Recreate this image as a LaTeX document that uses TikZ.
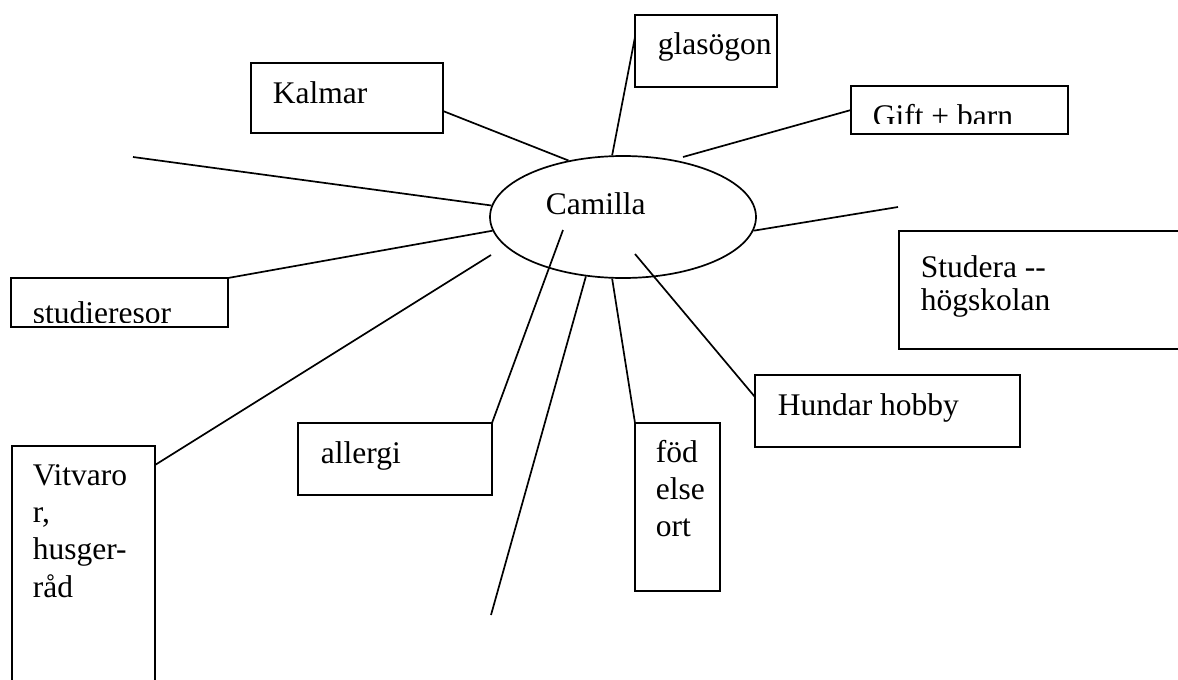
\documentclass[tikz,border=0pt]{standalone}
\usepackage{fontspec}
\setmainfont{Liberation Serif}
\usetikzlibrary{shapes,calc,positioning}

\begin{document}
\begin{tikzpicture}[x=1pt,y=-1pt,line width=1.7pt,
    box/.style={draw,rectangle,anchor=north west,inner sep=0pt,outer sep=0pt},
    txt/.style={anchor=base west,inner sep=0pt,align=left,font=\fontsize{31.5}{37.3}\selectfont}]
            \useasboundingbox (0,0) rectangle (1178,680);
            \clip (0,0) rectangle (1178,680);
            \draw (623,217) node[draw,ellipse,minimum width=266pt,minimum height=122pt,inner sep=0pt] (cam) {};
            \draw (545,214) node[txt] (camtxt) {Camilla};
            \draw (251,63) node[box,minimum width=192pt,minimum height=70pt] (kalmar) {};
            \draw (272,103) node[txt] (kalmartxt) {Kalmar};
            \draw (635,15) node[box,minimum width=142pt,minimum height=72pt] (glas) {};
            \draw (657,54) node[txt] (glastxt) {glasögon};
            \draw (851,86) node[box,minimum width=217pt,minimum height=48pt] (gift) {};
            \begin{scope}
                \clip (851,86) rectangle (1068,123);
                \draw (872,126) node[txt] (gifttxt) {Gift + barn};
            \end{scope}
            \draw (11,278) node[box,minimum width=217pt,minimum height=49pt] (studie) {};
            \begin{scope}
                \clip (11,278) rectangle (228,322);
                \draw (32,323.5) node[txt] (studietxt) {studieresor};
            \end{scope}
            \draw (899,231) node[box,minimum width=300pt,minimum height=118pt] (studera) {};
            % multi-line texts sit on their last line
            \draw (920,310) node[txt,font=\fontsize{31.5}{32.7}\selectfont] (studeratxt) {Studera {-}{-}\\högskolan};
            \draw (755,375) node[box,minimum width=265pt,minimum height=72pt] (hundar) {};
            \draw (777,415) node[txt] (hundartxt) {Hundar hobby};
            \draw (298,423) node[box,minimum width=194pt,minimum height=72pt] (allergi) {};
            \draw (320,463) node[txt] (allergitxt) {allergi};
            \draw (635,423) node[box,minimum width=85pt,minimum height=168pt] (fod) {};
            \draw (655,536) node[txt,font=\fontsize{31.5}{36.7}\selectfont] (fodtxt) {föd\\else\\ort};
            \draw (12,446) node[box,minimum width=143pt,minimum height=260pt] (vit) {};
            \draw (32,597) node[txt] (vittxt) {Vitvaro\\r,\\husger-\\råd};
            % loose line ends
            \coordinate (giftend) at (683,157);
            \coordinate (tl) at (133,157);
            \coordinate (rt) at (898,207);
            \coordinate (vitend) at (491,255);
            \coordinate (allend) at (563,230);
            \coordinate (bot) at (491,615);
            \coordinate (hundend) at (635,254);
            \path
            ($(kalmar.north east)+(0,48)$) edge (cam.134)
            ($(glas.north west)+(0,22)$) edge (cam.100)
            (gift.west) edge (giftend)
            (tl) edge (cam.175)
            (cam.354) edge (rt)
            (studie.north east) edge (cam.186)
            ($(vit.north east)+(0,19)$) edge (vitend)
            (allergi.north east) edge (allend)
            (cam.238) edge (bot)
            (cam.260) edge (fod.north west)
            (hundend) edge ($(hundar.north west)+(0,22)$);
\end{tikzpicture}
\end{document}
